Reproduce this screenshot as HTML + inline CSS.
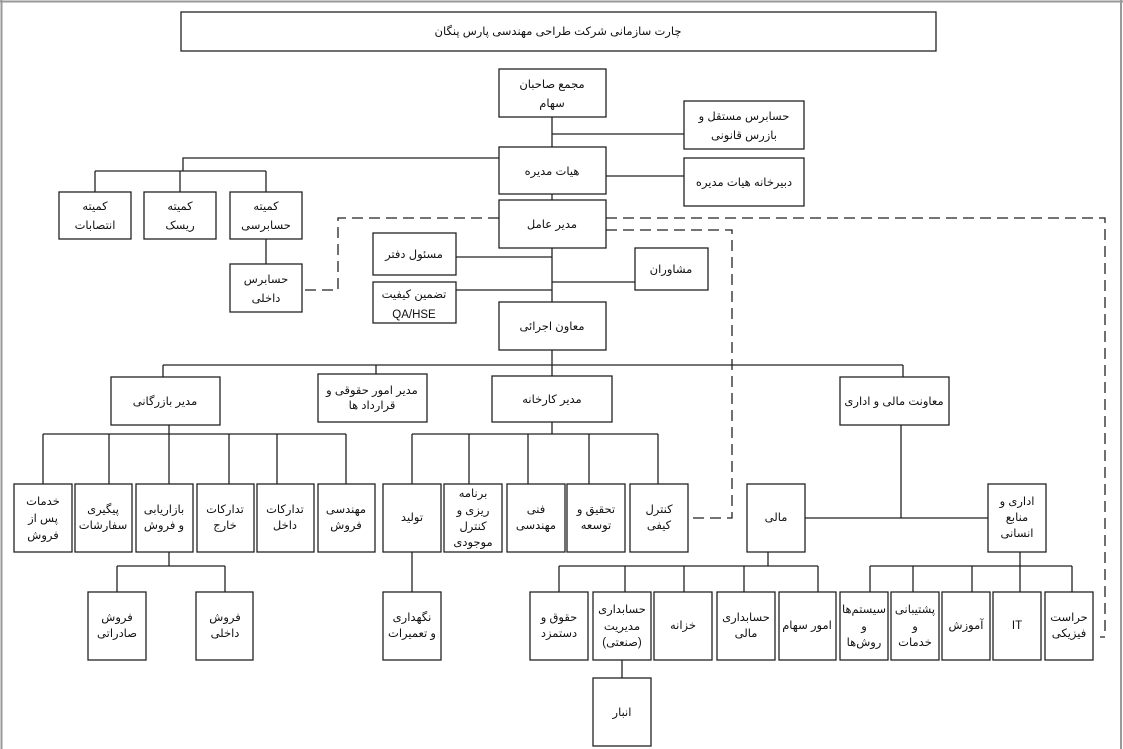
<!DOCTYPE html>
<html><head><meta charset="utf-8"><style>
html,body{margin:0;padding:0;background:#fff;}
svg{display:block;}
text{font-family:"Liberation Sans","Noto Sans CJK SC","DejaVu Sans",sans-serif;font-size:11.5px;fill:#111;direction:rtl;}
</style></head><body>
<svg width="1123" height="749" viewBox="0 0 1123 749" xmlns="http://www.w3.org/2000/svg">
<rect x="0" y="0" width="1123" height="749" fill="#fff"/>
<line x1="0" y1="1.5" x2="1123" y2="1.5" stroke="#999" stroke-width="2"/>
<line x1="1.5" y1="0" x2="1.5" y2="749" stroke="#999" stroke-width="2"/>
<line x1="1121" y1="0" x2="1121" y2="749" stroke="#999" stroke-width="2"/>
<g stroke="#222" stroke-width="1.3" fill="none">
<line x1="552" y1="117" x2="552" y2="147"/>
<line x1="552" y1="134" x2="684" y2="134"/>
<line x1="606" y1="176" x2="684" y2="176"/>
<line x1="552" y1="194" x2="552" y2="200"/>
<polyline points="499,158 183,158 183,171"/>
<line x1="95" y1="171" x2="266" y2="171"/>
<line x1="95" y1="171" x2="95" y2="192"/>
<line x1="180" y1="171" x2="180" y2="192"/>
<line x1="266" y1="171" x2="266" y2="192"/>
<line x1="266" y1="239" x2="266" y2="264"/>
<line x1="552" y1="248" x2="552" y2="302"/>
<line x1="456" y1="257" x2="552" y2="257"/>
<line x1="552" y1="282" x2="635" y2="282"/>
<line x1="456" y1="290" x2="552" y2="290"/>
<line x1="552" y1="350" x2="552" y2="365"/>
<line x1="163" y1="365" x2="903" y2="365"/>
<line x1="163" y1="365" x2="163" y2="377"/>
<line x1="376" y1="365" x2="376" y2="374"/>
<line x1="552" y1="365" x2="552" y2="376"/>
<line x1="903" y1="365" x2="903" y2="377"/>
<line x1="169" y1="425" x2="169" y2="434"/>
<line x1="43" y1="434" x2="346" y2="434"/>
<line x1="43" y1="434" x2="43" y2="484"/>
<line x1="109" y1="434" x2="109" y2="484"/>
<line x1="169" y1="434" x2="169" y2="484"/>
<line x1="229" y1="434" x2="229" y2="484"/>
<line x1="277" y1="434" x2="277" y2="484"/>
<line x1="346" y1="434" x2="346" y2="484"/>
<line x1="169" y1="552" x2="169" y2="566"/>
<line x1="117" y1="566" x2="225" y2="566"/>
<line x1="117" y1="566" x2="117" y2="592"/>
<line x1="225" y1="566" x2="225" y2="592"/>
<line x1="552" y1="422" x2="552" y2="434"/>
<line x1="412" y1="434" x2="658" y2="434"/>
<line x1="412" y1="434" x2="412" y2="484"/>
<line x1="469" y1="434" x2="469" y2="484"/>
<line x1="528" y1="434" x2="528" y2="484"/>
<line x1="589" y1="434" x2="589" y2="484"/>
<line x1="658" y1="434" x2="658" y2="484"/>
<line x1="412" y1="552" x2="412" y2="592"/>
<line x1="901" y1="425" x2="901" y2="518"/>
<line x1="805" y1="518" x2="988" y2="518"/>
<line x1="768" y1="552" x2="768" y2="566"/>
<line x1="559" y1="566" x2="818" y2="566"/>
<line x1="559" y1="566" x2="559" y2="592"/>
<line x1="625" y1="566" x2="625" y2="592"/>
<line x1="684" y1="566" x2="684" y2="592"/>
<line x1="744" y1="566" x2="744" y2="592"/>
<line x1="818" y1="566" x2="818" y2="592"/>
<line x1="622" y1="660" x2="622" y2="678"/>
<line x1="1020" y1="552" x2="1020" y2="566"/>
<line x1="870" y1="566" x2="1072" y2="566"/>
<line x1="870" y1="566" x2="870" y2="592"/>
<line x1="913" y1="566" x2="913" y2="592"/>
<line x1="972" y1="566" x2="972" y2="592"/>
<line x1="1020" y1="566" x2="1020" y2="592"/>
<line x1="1072" y1="566" x2="1072" y2="592"/>
</g>
<g stroke="#222" stroke-width="1.3" fill="none" stroke-dasharray="11,6">
<polyline points="499,218 338,218 338,290 302,290"/>
<polyline points="606,218 1105,218 1105,637 1100,637"/>
<polyline points="606,230 732,230 732,518 688,518"/>
</g>
<g stroke="#222" stroke-width="1.3" fill="#fff">
<rect x="181" y="12" width="755" height="39"/>
<rect x="499" y="69" width="107" height="48"/>
<rect x="684" y="101" width="120" height="48"/>
<rect x="499" y="147" width="107" height="47"/>
<rect x="684" y="158" width="120" height="48"/>
<rect x="59" y="192" width="72" height="47"/>
<rect x="144" y="192" width="72" height="47"/>
<rect x="230" y="192" width="72" height="47"/>
<rect x="230" y="264" width="72" height="48"/>
<rect x="499" y="200" width="107" height="48"/>
<rect x="373" y="233" width="83" height="42"/>
<rect x="635" y="248" width="73" height="42"/>
<rect x="373" y="282" width="83" height="41"/>
<rect x="499" y="302" width="107" height="48"/>
<rect x="111" y="377" width="109" height="48"/>
<rect x="318" y="374" width="109" height="48"/>
<rect x="492" y="376" width="120" height="46"/>
<rect x="840" y="377" width="109" height="48"/>
<rect x="14" y="484" width="58" height="68"/>
<rect x="75" y="484" width="57" height="68"/>
<rect x="136" y="484" width="57" height="68"/>
<rect x="197" y="484" width="57" height="68"/>
<rect x="257" y="484" width="57" height="68"/>
<rect x="318" y="484" width="57" height="68"/>
<rect x="88" y="592" width="58" height="68"/>
<rect x="196" y="592" width="57" height="68"/>
<rect x="383" y="484" width="58" height="68"/>
<rect x="444" y="484" width="58" height="68"/>
<rect x="507" y="484" width="58" height="68"/>
<rect x="567" y="484" width="58" height="68"/>
<rect x="630" y="484" width="58" height="68"/>
<rect x="383" y="592" width="58" height="68"/>
<rect x="747" y="484" width="58" height="68"/>
<rect x="988" y="484" width="58" height="68"/>
<rect x="530" y="592" width="58" height="68"/>
<rect x="593" y="592" width="58" height="68"/>
<rect x="654" y="592" width="58" height="68"/>
<rect x="717" y="592" width="58" height="68"/>
<rect x="779" y="592" width="57" height="68"/>
<rect x="593" y="678" width="58" height="68"/>
<rect x="840" y="592" width="48" height="68"/>
<rect x="891" y="592" width="48" height="68"/>
<rect x="942" y="592" width="48" height="68"/>
<rect x="993" y="592" width="48" height="68"/>
<rect x="1045" y="592" width="48" height="68"/>
</g>
<g text-anchor="middle">
<text x="558" y="35" font-size="13">چارت سازمانی شرکت طراحی مهندسی پارس پنگان</text>
<text x="552" y="88" font-size="12.5">مجمع صاحبان</text><text x="552" y="107" font-size="12.5">سهام</text>
<text x="744" y="120" font-size="12.5">حسابرس مستقل و</text><text x="744" y="139" font-size="12.5">بازرس قانونی</text>
<text x="552" y="175" font-size="12.5">هیات مدیره</text>
<text x="744" y="186" font-size="12.5">دبیرخانه هیات مدیره</text>
<text x="95" y="210" font-size="12.5">کمیته</text><text x="95" y="229" font-size="12.5">انتصابات</text>
<text x="180" y="210" font-size="12.5">کمیته</text><text x="180" y="229" font-size="12.5">ریسک</text>
<text x="266" y="210" font-size="12.5">کمیته</text><text x="266" y="229" font-size="12.5">حسابرسی</text>
<text x="266" y="283" font-size="12.5">حسابرس</text><text x="266" y="302" font-size="12.5">داخلی</text>
<text x="552" y="228" font-size="12.5">مدیر عامل</text>
<text x="414" y="258" font-size="12.5">مسئول دفتر</text>
<text x="671" y="273" font-size="12.5">مشاوران</text>
<text x="414" y="298" font-size="12.5">تضمین کیفیت</text><text x="414" y="318" font-size="12.5" style="direction:ltr">QA/HSE</text>
<text x="552" y="330" font-size="12.5">معاون اجرائی</text>
<text x="165" y="405">مدیر بازرگانی</text>
<text x="372" y="394">مدیر امور حقوقی و</text><text x="372" y="409">قرارداد ها</text>
<text x="552" y="403">مدیر کارخانه</text>
<text x="894" y="405">معاونت مالی و اداری</text>
<text x="43" y="505">خدمات</text><text x="43" y="522">پس از</text><text x="43" y="539">فروش</text>
<text x="103" y="513">پیگیری</text><text x="103" y="529">سفارشات</text>
<text x="164" y="513">بازاریابی</text><text x="164" y="529">و فروش</text>
<text x="225" y="513">تدارکات</text><text x="225" y="529">خارج</text>
<text x="285" y="513">تدارکات</text><text x="285" y="529">داخل</text>
<text x="346" y="513">مهندسی</text><text x="346" y="529">فروش</text>
<text x="117" y="621">فروش</text><text x="117" y="637">صادراتی</text>
<text x="225" y="621">فروش</text><text x="225" y="637">داخلی</text>
<text x="412" y="521">تولید</text>
<text x="473" y="497">برنامه</text><text x="473" y="514">ریزی و</text><text x="473" y="530">کنترل</text><text x="473" y="546">موجودی</text>
<text x="536" y="513">فنی</text><text x="536" y="529">مهندسی</text>
<text x="596" y="513">تحقیق و</text><text x="596" y="529">توسعه</text>
<text x="659" y="513">کنترل</text><text x="659" y="529">کیفی</text>
<text x="412" y="621">نگهداری</text><text x="412" y="637">و تعمیرات</text>
<text x="776" y="521">مالی</text>
<text x="1017" y="505">اداری و</text><text x="1017" y="521">منابع</text><text x="1017" y="537">انسانی</text>
<text x="559" y="621">حقوق و</text><text x="559" y="637">دستمزد</text>
<text x="622" y="613">حسابداری</text><text x="622" y="630">مدیریت</text><text x="622" y="646">(صنعتی)</text>
<text x="683" y="629">خزانه</text>
<text x="746" y="621">حسابداری</text><text x="746" y="637">مالی</text>
<text x="807" y="629">امور سهام</text>
<text x="622" y="716">انبار</text>
<text x="864" y="613">سیستم‌ها</text><text x="864" y="630">و</text><text x="864" y="646">روش‌ها</text>
<text x="915" y="613">پشتیبانی</text><text x="915" y="630">و</text><text x="915" y="646">خدمات</text>
<text x="966" y="629">آموزش</text>
<text x="1017" y="629" style="direction:ltr">IT</text>
<text x="1069" y="621">حراست</text><text x="1069" y="637">فیزیکی</text>
</g>
</svg>
</body></html>
